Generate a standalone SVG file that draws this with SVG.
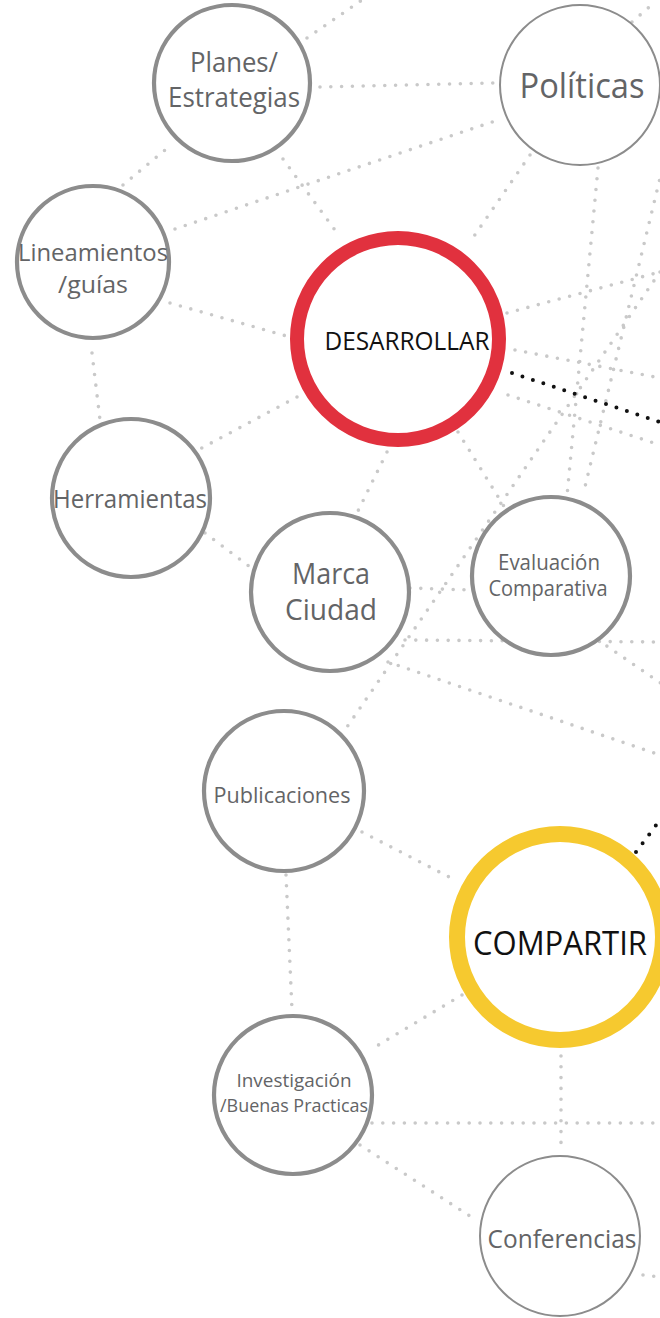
<svg xmlns="http://www.w3.org/2000/svg" width="660" height="1318" viewBox="0 0 660 1318">
<style>
.c{stroke:#c9c9c9;stroke-width:3.6;stroke-linecap:round;stroke-dasharray:0 10.8;fill:none}
.k{stroke:#111;stroke-width:4;stroke-linecap:round;stroke-dasharray:0 11;fill:none}
.n{fill:#fff;stroke:#8c8c8c;stroke-width:4.2}
.t{fill:#fff;stroke:#8c8c8c;stroke-width:2}
.l{font-family:"Open Sans","Noto Sans",sans-serif;fill:#636466;text-anchor:middle}
.b{font-family:"Open Sans","Noto Sans",sans-serif;fill:#111;text-anchor:middle}
</style>
<rect width="660" height="1318" fill="#fff"/>
<g id="connectors">
<line class="c" x1="307" y1="38" x2="362" y2="0"/>
<line class="c" x1="320" y1="87" x2="495" y2="83"/>
<line class="c" x1="175" y1="229" x2="498" y2="120"/>
<line class="c" x1="283" y1="159" x2="340" y2="237"/>
<line class="c" x1="123" y1="185" x2="165" y2="150"/>
<line class="c" x1="530" y1="155" x2="470" y2="242"/>
<line class="c" x1="598" y1="168" x2="567" y2="496"/>
<line class="c" x1="632" y1="22" x2="655" y2="2"/>
<line class="c" x1="662" y1="170" x2="583" y2="495"/>
<line class="c" x1="507" y1="313" x2="660" y2="272"/>
<line class="c" x1="515" y1="350" x2="660" y2="378"/>
<line class="c" x1="508" y1="395" x2="660" y2="445"/>
<line class="c" x1="660" y1="272" x2="347" y2="727"/>
<line class="c" x1="458" y1="432" x2="505" y2="508"/>
<line class="c" x1="387" y1="452" x2="356" y2="515"/>
<line class="c" x1="297" y1="397" x2="198" y2="450"/>
<line class="c" x1="170" y1="303" x2="290" y2="337"/>
<line class="c" x1="92" y1="353" x2="100" y2="420"/>
<line class="c" x1="205" y1="533" x2="250" y2="567"/>
<line class="c" x1="410" y1="588" x2="470" y2="590"/>
<line class="c" x1="405" y1="640" x2="660" y2="642"/>
<line class="c" x1="598" y1="640" x2="662" y2="684"/>
<line class="c" x1="388" y1="662" x2="660" y2="755"/>
<line class="c" x1="362" y1="832" x2="455" y2="880"/>
<line class="c" x1="286" y1="875" x2="292" y2="1010"/>
<line class="c" x1="462" y1="995" x2="370" y2="1050"/>
<line class="c" x1="561" y1="1056" x2="561" y2="1148"/>
<line class="c" x1="372" y1="1123" x2="660" y2="1123"/>
<line class="c" x1="360" y1="1145" x2="476" y2="1220"/>
<line class="c" x1="643" y1="1275" x2="660" y2="1277"/>
<line class="k" x1="512" y1="373" x2="660" y2="422"/>
<line class="k" x1="636" y1="852" x2="660" y2="820"/>
</g>
<g id="planes"><circle class="n" cx="232" cy="83" r="78" stroke-width="4.6"/><text class="l" font-size="27" x="234" y="72" textLength="88" lengthAdjust="spacingAndGlyphs">Planes/</text><text class="l" font-size="27" x="234" y="107" textLength="132" lengthAdjust="spacingAndGlyphs">Estrategias</text></g>
<g id="politicas"><circle class="t" cx="580" cy="85" r="80"/><text class="l" font-size="34" x="582" y="98" textLength="125" lengthAdjust="spacingAndGlyphs">Políticas</text></g>
<g id="lineamientos"><circle class="n" cx="93" cy="262" r="76"/><text class="l" font-size="23" x="93" y="261" textLength="150" lengthAdjust="spacingAndGlyphs">Lineamientos</text><text class="l" font-size="23" x="93" y="293" textLength="70" lengthAdjust="spacingAndGlyphs">/guías</text></g>
<g id="desarrollar"><circle cx="398" cy="339" r="101" fill="#fff" stroke="#e1313e" stroke-width="14"/><text class="b" font-size="26" x="407" y="350" textLength="165" lengthAdjust="spacingAndGlyphs">DESARROLLAR</text></g>
<g id="herramientas"><circle class="n" cx="131" cy="498" r="79"/><text class="l" font-size="25.5" x="130" y="508" textLength="154" lengthAdjust="spacingAndGlyphs">Herramientas</text></g>
<g id="marca"><circle class="n" cx="330" cy="592" r="79"/><text class="l" font-size="29" x="331" y="584" textLength="78" lengthAdjust="spacingAndGlyphs">Marca</text><text class="l" font-size="29" x="331" y="620" textLength="92" lengthAdjust="spacingAndGlyphs">Ciudad</text></g>
<g id="evaluacion"><circle class="n" cx="551" cy="576" r="79" stroke-width="4.6"/><text class="l" font-size="21" x="549" y="570" textLength="102" lengthAdjust="spacingAndGlyphs">Evaluación</text><text class="l" font-size="21" x="548" y="596" textLength="119" lengthAdjust="spacingAndGlyphs">Comparativa</text></g>
<g id="publicaciones"><circle class="n" cx="284" cy="791" r="80"/><text class="l" font-size="22.5" x="282" y="803" textLength="137" lengthAdjust="spacingAndGlyphs">Publicaciones</text></g>
<g id="compartir"><circle cx="560" cy="937" r="103" fill="#fff" stroke="#f6c92f" stroke-width="16"/><text class="b" font-size="33" x="560" y="955" textLength="174" lengthAdjust="spacingAndGlyphs">COMPARTIR</text></g>
<g id="investigacion"><circle class="n" cx="293" cy="1095" r="79" stroke-width="4.6"/><text class="l" font-size="19" x="294" y="1087" textLength="115" lengthAdjust="spacingAndGlyphs">Investigación</text><text class="l" font-size="19" x="294" y="1112" textLength="148" lengthAdjust="spacingAndGlyphs">/Buenas Practicas</text></g>
<g id="conferencias"><circle class="t" cx="560" cy="1236" r="80"/><text class="l" font-size="25.5" x="562" y="1248" textLength="149" lengthAdjust="spacingAndGlyphs">Conferencias</text></g>
</svg>
